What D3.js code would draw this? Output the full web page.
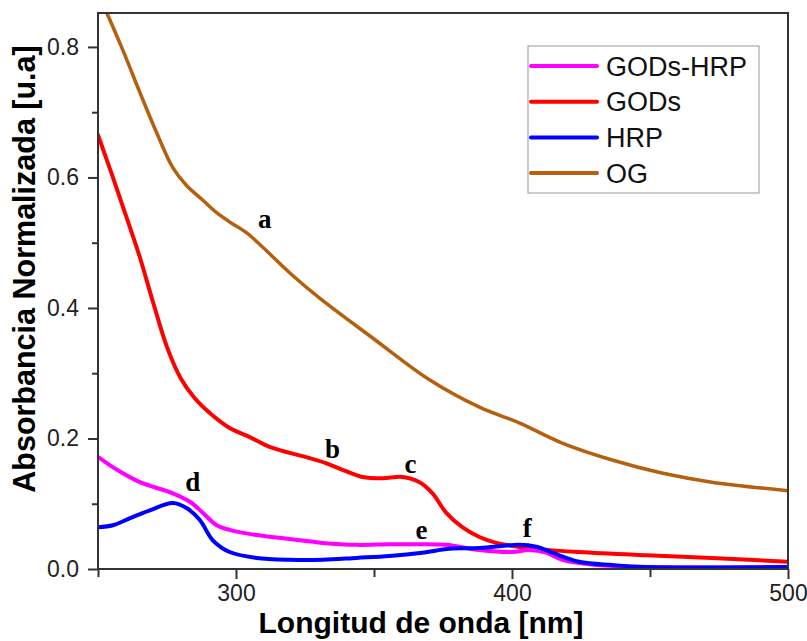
<!DOCTYPE html>
<html>
<head>
<meta charset="utf-8">
<script src="https://cdn.jsdelivr.net/npm/d3@7/dist/d3.min.js"></script>
<style>
  html, body { margin: 0; padding: 0; background: #fff; }
  svg text { font-family: "Liberation Sans", Arial, sans-serif; }
</style>
</head>
<body>
<svg id="chart" width="807" height="641"></svg>
<script>
// ---- Data ----
const seriesNames = ["GODs-HRP", "GODs", "HRP", "OG"];
const seriesColors = ["#ff00ff", "#ff0000", "#0000ff", "#b5600f"];

const ogX = [250, 253.3, 259.0, 265.2, 271.3, 277.1, 282.0, 288.0, 293.0, 298.0, 303.9, 309.7, 319.4, 330.3, 349.5, 370.1, 388.2, 402.6, 418.2, 436.3, 454.3, 472.4, 500];
const ogY = [0.88, 0.851, 0.795, 0.730, 0.668, 0.615, 0.588, 0.565, 0.546, 0.531, 0.515, 0.493, 0.454, 0.415, 0.354, 0.290, 0.248, 0.224, 0.193, 0.167, 0.147, 0.133, 0.120];

const godsX = [250, 255, 260, 265, 270, 275, 280, 285, 290.5, 297.7, 305.0, 312.2, 319.4, 326.7, 332.8, 338.6, 345.8, 353.1, 360.3, 366.5, 371.2, 376.2, 382.0, 388.2, 394.3, 406.2, 424.3, 448.6, 472.4, 500];
const godsY = [0.665, 0.605, 0.543, 0.480, 0.408, 0.340, 0.292, 0.262, 0.239, 0.216, 0.202, 0.187, 0.178, 0.170, 0.162, 0.152, 0.141, 0.139, 0.141, 0.133, 0.116, 0.086, 0.064, 0.049, 0.040, 0.032, 0.026, 0.021, 0.017, 0.011];

const godsHrpX = [250, 256.9, 265.2, 277.1, 283.3, 288.0, 293.0, 297.7, 307.5, 319.4, 331.4, 343.7, 355.6, 365.4, 376.2, 388.2, 400.1, 406.2, 412.4, 418.2, 430.5, 448.6, 500];
const godsHrpY = [0.172, 0.152, 0.133, 0.116, 0.103, 0.086, 0.067, 0.060, 0.052, 0.046, 0.040, 0.037, 0.038, 0.038, 0.037, 0.029, 0.026, 0.029, 0.025, 0.014, 0.006, 0.003, 0.003];

const hrpX = [250, 255.4, 261.6, 268.8, 277.1, 282.2, 286.9, 291.6, 297.7, 307.5, 319.4, 331.4, 343.7, 355.6, 367.5, 377.3, 388.2, 402.6, 408.8, 414.6, 424.3, 436.3, 448.6, 500];
const hrpY = [0.064, 0.067, 0.078, 0.090, 0.101, 0.093, 0.075, 0.044, 0.026, 0.017, 0.014, 0.014, 0.017, 0.020, 0.025, 0.031, 0.032, 0.037, 0.034, 0.025, 0.011, 0.006, 0.003, 0.003];

const xTicks = [300, 400, 500];
const xMinorTicks = [250, 350, 450];
const yTicks = [0.0, 0.2, 0.4, 0.6, 0.8];
const yMinorTicks = [0.1, 0.3, 0.5, 0.7];

const annText = ["a", "b", "c", "d", "e", "f"];
const annX = [310.4, 335.0, 363.2, 284.3, 367.2, 405.5];
const annY = [0.523, 0.170, 0.147, 0.119, 0.046, 0.049];

const xTitle = "Longitud de onda [nm]";
const yTitle = "Absorbancia Normalizada [u.a]";

// ---- Layout ----
const svg = d3.select("#chart");
const L = 98, R = 788, T = 13, B = 569;
const x = d3.scaleLinear().domain([250, 500]).range([L, R]);
const y = d3.scaleLinear().domain([0, 0.852]).range([B, T]);

svg.append("defs").append("clipPath").attr("id", "clip")
  .append("rect").attr("x", L).attr("y", T).attr("width", R - L).attr("height", B - T);

const series = [
  { name: seriesNames[0], color: seriesColors[0], xs: godsHrpX, ys: godsHrpY, w: 4 },
  { name: seriesNames[1], color: seriesColors[1], xs: godsX, ys: godsY, w: 4 },
  { name: seriesNames[2], color: seriesColors[2], xs: hrpX, ys: hrpY, w: 4 },
  { name: seriesNames[3], color: seriesColors[3], xs: ogX, ys: ogY, w: 3.5 }
];

const line = d3.line().x(d => x(d[0])).y(d => y(d[1])).curve(d3.curveCatmullRom.alpha(0.5));

const g = svg.append("g").attr("clip-path", "url(#clip)");
// draw order: OG, GODs, GODs-HRP, HRP on top
[3, 1, 0, 2].forEach(i => {
  const s = series[i];
  const pts = s.xs.map((v, k) => [v, s.ys[k]]);
  g.append("path").attr("d", line(pts)).attr("fill", "none")
    .attr("stroke", s.color).attr("stroke-width", s.w)
    .attr("stroke-linejoin", "round").attr("stroke-linecap", "round");
});

// ---- Axes ----
const axisColor = "#333";
const xAxis = svg.append("g").attr("transform", `translate(0,${B})`)
  .call(d3.axisBottom(x).tickValues(xTicks).tickSize(10).tickPadding(6).tickFormat(d3.format("d")));
const xAxisMinor = svg.append("g").attr("transform", `translate(0,${B})`)
  .call(d3.axisBottom(x).tickValues(xMinorTicks).tickSize(8).tickFormat(""));
const yAxis = svg.append("g").attr("transform", `translate(${L},0)`)
  .call(d3.axisLeft(y).tickValues(yTicks).tickSize(10).tickPadding(9).tickFormat(d3.format(".1f")));
const yAxisMinor = svg.append("g").attr("transform", `translate(${L},0)`)
  .call(d3.axisLeft(y).tickValues(yMinorTicks).tickSize(6).tickFormat(""));

[xAxis, xAxisMinor, yAxis, yAxisMinor].forEach(a => {
  a.select(".domain").remove();
  a.selectAll(".tick line").attr("stroke", axisColor).attr("stroke-width", 2);
  a.selectAll(".tick text").attr("fill", "#222").style("font-size", "23px")
    .style("font-family", "'Liberation Sans', Arial, sans-serif");
});

// frame
svg.append("rect").attr("x", L).attr("y", T).attr("width", R - L).attr("height", B - T)
  .attr("fill", "none").attr("stroke", axisColor).attr("stroke-width", 2);

// ---- Titles ----
svg.append("text").attr("x", 421).attr("y", 633).attr("text-anchor", "middle")
  .style("font-size", "30px").style("font-weight", "bold").attr("fill", "#000").text(xTitle);
svg.append("text").attr("transform", "translate(35,269) rotate(-90)").attr("text-anchor", "middle")
  .style("font-size", "30.5px").style("font-weight", "bold").attr("fill", "#000").text(yTitle);

// ---- Annotations ----
svg.selectAll("text.ann").data(annText).enter().append("text").attr("class", "ann")
  .attr("x", (d, i) => x(annX[i])).attr("y", (d, i) => y(annY[i]))
  .attr("text-anchor", "middle")
  .style("font-family", "'Liberation Serif', 'Times New Roman', serif")
  .style("font-weight", "bold").style("font-size", "27px").attr("fill", "#000")
  .text(d => d);

// ---- Legend ----
const lg = svg.append("g");
lg.append("rect").attr("x", 528).attr("y", 46).attr("width", 231).attr("height", 147)
  .attr("fill", "#fff").attr("stroke", "#999").attr("stroke-width", 1);
series.forEach((s, i) => {
  const cy = 66 + i * 35.7;
  lg.append("line").attr("x1", 531).attr("x2", 597).attr("y1", cy).attr("y2", cy)
    .attr("stroke", s.color).attr("stroke-width", 4).attr("stroke-linecap", "round");
  lg.append("text").attr("x", 606).attr("y", cy + 9.5).style("font-size", "27px")
    .attr("fill", "#111").text(s.name);
});
</script>
</body>
</html>
